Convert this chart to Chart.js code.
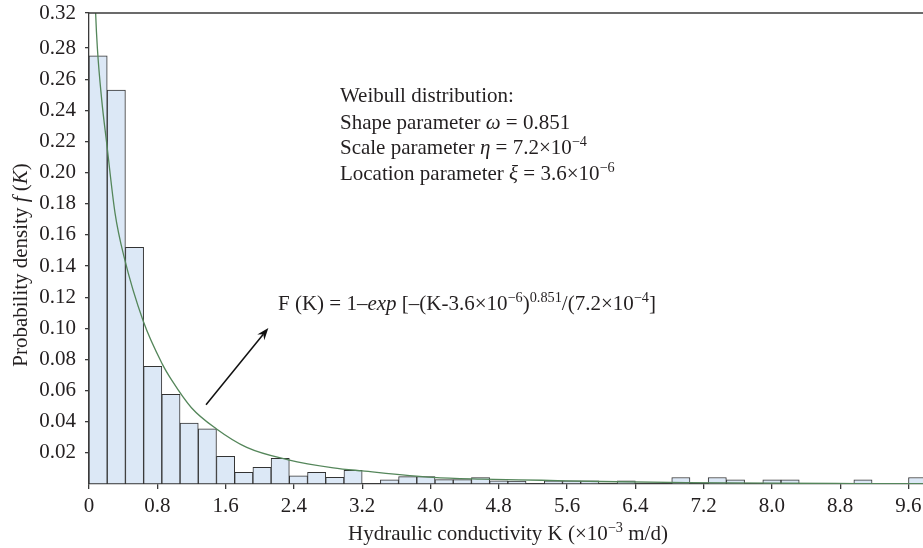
<!DOCTYPE html>
<html>
<head>
<meta charset="utf-8">
<script src="https://cdn.jsdelivr.net/npm/chart.js@4.4.1/dist/chart.umd.min.js"></script>
<style>
  html, body { margin: 0; padding: 0; background: #fff; }
</style>
</head>
<body>
<canvas id="histChart" width="923" height="548"></canvas>
<script>
// Histogram: 46 equal bins over K (x10^-3 m/d), relative frequency per bin
const binWidth = 9.6 / 45;
const binFreq = [
    0.275, 0.253, 0.152, 0.0756, 0.0576, 0.0392, 0.0355, 0.0178, 0.0075, 0.0107,
    0.0165, 0.0053, 0.0075, 0.0043, 0.0088, 0, 0.0026, 0.0047, 0.0047, 0.0028,
    0.0028, 0.0042, 0.0021, 0.0019, 0, 0.0021, 0.0021, 0.0021, 0, 0.0021,
    0, 0, 0.0042, 0, 0.0042, 0.0026, 0, 0.0026, 0.0026, 0,
    0, 0, 0.0026, 0, 0, 0.0042
];

// Fitted Weibull curve
const curveK = [0.06, 0.078, 0.098, 0.149, 0.207, 0.305, 0.41, 0.636, 0.859, 0.969, 1.2, 1.49, 1.848, 2.335, 2.862, 3.2, 4.03, 4.6, 5.3, 6.0, 7.0, 8.0, 9.0, 9.8];
const curveF = [0.335, 0.302, 0.28, 0.2467, 0.219, 0.174, 0.146, 0.1045, 0.077, 0.0667, 0.049, 0.0355, 0.0235, 0.0155, 0.0104, 0.0084, 0.0042, 0.0031, 0.0024, 0.0016, 0.0009, 0.0005, 0.0003, 0.0002];

// Axis ticks
const xTickValues = [0, 0.8, 1.6, 2.4, 3.2, 4.0, 4.8, 5.6, 6.4, 7.2, 8.0, 8.8, 9.6];
const xTickLabels = ['0', '0.8', '1.6', '2.4', '3.2', '4.0', '4.8', '5.6', '6.4', '7.2', '8.0', '8.8', '9.6'];
const yTickValues = [0.02, 0.04, 0.06, 0.08, 0.10, 0.12, 0.14, 0.16, 0.18, 0.20, 0.22, 0.24, 0.26, 0.28, 0.3025];
const yTickLabels = ['0.02', '0.04', '0.06', '0.08', '0.10', '0.12', '0.14', '0.16', '0.18', '0.20', '0.22', '0.24', '0.26', '0.28', '0.32'];

const FONT = "'Liberation Serif', 'Times New Roman', serif";
const FS = 21;
const INK = '#231f20';
const AXIS = '#3a3a3a';

// draw a run of text pieces (italic / superscript) starting at x, baseline y
function drawRich(ctx, x, y, parts, size) {
    let cx = x;
    parts.forEach(p => {
        const s = p.sup ? size * 0.68 : size;
        ctx.font = (p.i ? 'italic ' : '') + s + 'px ' + FONT;
        ctx.fillText(p.t, cx, p.sup ? y - size * 0.4 : y);
        cx += ctx.measureText(p.t).width;
    });
    return cx - x;
}
function richWidth(ctx, parts, size) {
    let w = 0;
    parts.forEach(p => {
        const s = p.sup ? size * 0.68 : size;
        ctx.font = (p.i ? 'italic ' : '') + s + 'px ' + FONT;
        w += ctx.measureText(p.t).width;
    });
    return w;
}

const weibullLines = [
    [{ t: 'Weibull distribution:' }],
    [{ t: 'Shape parameter ' }, { t: 'ω', i: true }, { t: ' = 0.851' }],
    [{ t: 'Scale parameter ' }, { t: 'η', i: true }, { t: ' = 7.2×10' }, { t: '−4', sup: true }],
    [{ t: 'Location parameter ' }, { t: 'ξ', i: true }, { t: ' = 3.6×10' }, { t: '−6', sup: true }]
];
const formulaParts = [
    { t: 'F (K) = 1–' }, { t: 'exp', i: true }, { t: ' [–(K-3.6×10' }, { t: '−6', sup: true },
    { t: ')' }, { t: '0.851', sup: true }, { t: '/(7.2×10' }, { t: '−4', sup: true }, { t: ']' }
];
const xTitleParts = [{ t: 'Hydraulic conductivity K (×10' }, { t: '−3', sup: true }, { t: ' m/d)' }];
const yTitleParts = [{ t: 'Probability density ' }, { t: 'f', i: true }, { t: ' (' }, { t: 'K', i: true }, { t: ')' }];

const annotations = {
    id: 'annotations',
    afterDraw(chart) {
        const ctx = chart.ctx;
        const area = chart.chartArea;
        const xs = chart.scales.x, ys = chart.scales.y;
        ctx.save();

        // top frame line
        ctx.strokeStyle = AXIS;
        ctx.lineWidth = 1.3;
        ctx.beginPath();
        ctx.moveTo(area.left, area.top);
        ctx.lineTo(area.right, area.top);
        ctx.stroke();

        ctx.fillStyle = INK;
        ctx.textBaseline = 'alphabetic';
        ctx.textAlign = 'left';

        // Weibull parameter block
        const bx = xs.getPixelForValue(2.94);
        const baselines = [0.2452, 0.2279, 0.2117, 0.1952];
        weibullLines.forEach((line, i) => drawRich(ctx, bx, ys.getPixelForValue(baselines[i]), line, FS));

        // CDF formula
        drawRich(ctx, xs.getPixelForValue(2.214), ys.getPixelForValue(0.1115), formulaParts, FS);

        // arrow
        const x0 = xs.getPixelForValue(1.371), y0 = ys.getPixelForValue(0.0509);
        const x1 = xs.getPixelForValue(2.101), y1 = ys.getPixelForValue(0.1002);
        const ang = Math.atan2(y1 - y0, x1 - x0);
        ctx.strokeStyle = '#111';
        ctx.lineWidth = 1.5;
        ctx.beginPath();
        ctx.moveTo(x0, y0);
        ctx.lineTo(x1 - 8 * Math.cos(ang), y1 - 8 * Math.sin(ang));
        ctx.stroke();
        ctx.fillStyle = '#111';
        ctx.beginPath();
        ctx.moveTo(x1, y1);
        ctx.lineTo(x1 - 12 * Math.cos(ang) + 4.5 * Math.sin(ang), y1 - 12 * Math.sin(ang) - 4.5 * Math.cos(ang));
        ctx.lineTo(x1 - 8 * Math.cos(ang), y1 - 8 * Math.sin(ang));
        ctx.lineTo(x1 - 12 * Math.cos(ang) - 4.5 * Math.sin(ang), y1 - 12 * Math.sin(ang) + 4.5 * Math.cos(ang));
        ctx.closePath();
        ctx.fill();

        // axis titles
        ctx.fillStyle = INK;
        const xw = richWidth(ctx, xTitleParts, FS);
        drawRich(ctx, (area.left + area.right) / 2 + 2 - xw / 2, 540, xTitleParts, FS);

        const yw = richWidth(ctx, yTitleParts, FS);
        ctx.translate(27, 265);
        ctx.rotate(-Math.PI / 2);
        drawRich(ctx, -yw / 2, 0, yTitleParts, FS);
        ctx.restore();
    }
};

const ctx = document.getElementById('histChart').getContext('2d');
new Chart(ctx, {
    type: 'bar',
    data: {
        datasets: [
            {
                type: 'line',
                label: 'Weibull fit',
                data: curveK.map((k, i) => ({ x: k, y: curveF[i] })),
                borderColor: '#54865a',
                borderWidth: 1.3,
                pointRadius: 0,
                cubicInterpolationMode: 'monotone',
                fill: false,
                order: 0
            },
            {
                type: 'bar',
                label: 'Frequency',
                data: binFreq.map((f, i) => ({ x: (i + 0.5) * binWidth, y: f })),
                backgroundColor: '#dce8f6',
                borderColor: '#333333',
                borderWidth: 1,
                borderSkipped: false,
                categoryPercentage: 1.0,
                barPercentage: 1.0,
                order: 1
            }
        ]
    },
    options: {
        responsive: false,
        animation: false,
        devicePixelRatio: 1,
        layout: { padding: { top: 13, right: 0, bottom: 0, left: 0 } },
        plugins: {
            legend: { display: false },
            tooltip: { enabled: false }
        },
        scales: {
            x: {
                type: 'linear',
                min: 0,
                max: 9.77,
                offset: false,
                afterBuildTicks: s => { s.ticks = xTickValues.map(v => ({ value: v })); },
                afterFit: s => { s.height = 64; s.paddingLeft = 0; s.paddingRight = 0; },
                ticks: {
                    autoSkip: false,
                    maxRotation: 0,
                    padding: 5,
                    color: INK,
                    font: { family: FONT, size: FS },
                    callback: (v, i) => xTickLabels[i]
                },
                grid: { display: true, drawOnChartArea: false, offset: false, tickLength: 5, color: AXIS, lineWidth: 1.3 },
                border: { display: true, color: AXIS, width: 1.3 }
            },
            y: {
                min: 0,
                max: 0.3025,
                afterBuildTicks: s => { s.ticks = yTickValues.map(v => ({ value: v })); },
                afterFit: s => { s.width = 89; s.paddingTop = 0; s.paddingBottom = 0; },
                ticks: {
                    autoSkip: false,
                    padding: 9,
                    color: INK,
                    font: { family: FONT, size: FS },
                    callback: (v, i) => yTickLabels[i]
                },
                grid: { display: true, drawOnChartArea: false, tickLength: 4, color: AXIS, lineWidth: 1.3 },
                border: { display: true, color: AXIS, width: 1.3 }
            }
        }
    },
    plugins: [annotations]
});
</script>
</body>
</html>
